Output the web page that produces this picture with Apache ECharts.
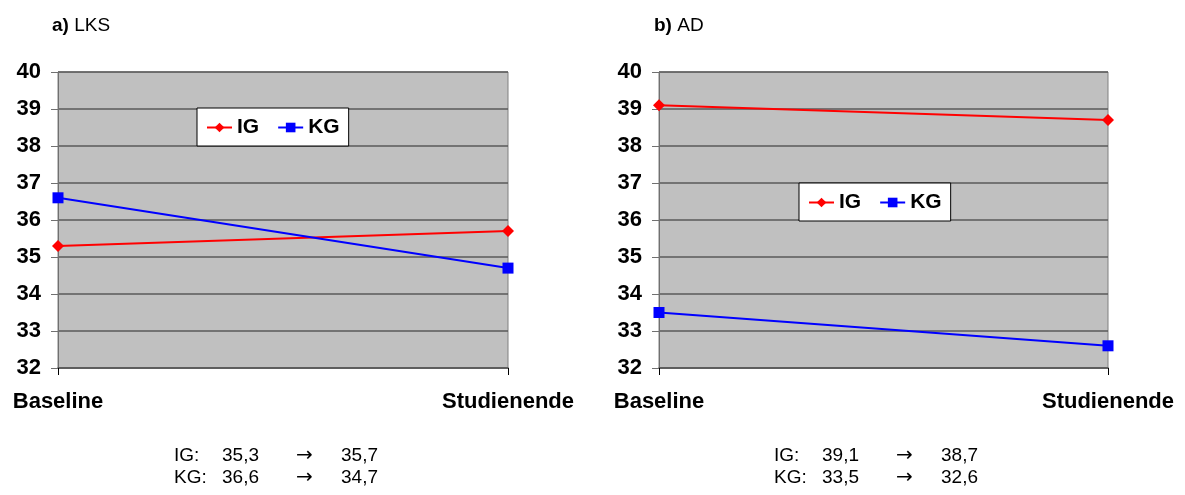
<!DOCTYPE html>
<html><head><meta charset="utf-8">
<script src="https://cdn.jsdelivr.net/npm/echarts@6/dist/echarts.min.js"></script>
<style>html,body{margin:0;padding:0;background:#fff}#c{width:1185px;height:495px}</style>
</head><body><div id="c"></div>
<script>
const categories = ['Baseline', 'Studienende'];
const lksIG = [35.3, 35.7];
const lksKG = [36.6, 34.7];
const adIG = [39.1, 38.7];
const adKG = [33.5, 32.6];
const yTicks = [32, 33, 34, 35, 36, 37, 38, 39, 40];

const FONT = 'Arial, "Liberation Sans", sans-serif';
const fmt = v => v.toFixed(1).replace('.', ',');

function yAx(gi) {
  return {
    gridIndex: gi, type: 'value', min: yTicks[0], max: yTicks[yTicks.length - 1], interval: 1,
    axisLine: { show: true, lineStyle: { color: '#707070', width: 1 } },
    axisTick: { show: true, length: 7, lineStyle: { color: '#707070' } },
    axisLabel: { color: '#000', fontFamily: FONT, fontWeight: 'bold', fontSize: 22, margin: 17 },
    splitLine: { show: true, lineStyle: { color: '#5a5a5a', width: 1.5 } }
  };
}
function xAx(gi) {
  return {
    gridIndex: gi, type: 'category', data: categories, boundaryGap: false,
    axisLine: { show: true, lineStyle: { color: '#5a5a5a', width: 1.5 } },
    axisTick: { show: true, length: 7, lineStyle: { color: '#000' } },
    axisLabel: { color: '#000', fontFamily: FONT, fontWeight: 'bold', fontSize: 22, margin: 23 },
    splitLine: { show: false }
  };
}
function ser(name, data, gi, color, symbol) {
  return {
    name, type: 'line', data, xAxisIndex: gi, yAxisIndex: gi,
    symbol, symbolSize: symbol === 'diamond' ? 12 : 11,
    lineStyle: { color, width: 2 }, itemStyle: { color },
    animation: false
  };
}
function legend(left, top) {
  return {
    left, top, orient: 'horizontal', data: ['IG', 'KG'],
    backgroundColor: '#fff', borderColor: '#000', borderWidth: 1,
    padding: [9, 9, 8, 9], itemGap: 18, itemWidth: 25, itemHeight: 12,
    textStyle: { color: '#000', fontFamily: FONT, fontWeight: 'bold', fontSize: 21 },
    selectedMode: false
  };
}
function titleText(x, letter, label) {
  return {
    type: 'text', left: x, top: 16,
    style: {
      text: '{b|' + letter + ')} ' + label,
      rich: { b: { fontWeight: 'bold', fontSize: 19, fontFamily: FONT, fill: '#000' } },
      font: '19px ' + FONT, fill: '#000'
    }
  };
}
function summary(x, ig, kg) {
  const items = [];
  const rows = [['IG:', ig], ['KG:', kg]];
  rows.forEach((r, i) => {
    const y = 446 + i * 22;
    items.push({ type: 'text', left: x, top: y, style: { text: r[0], font: '19px ' + FONT, fill: '#000' } });
    items.push({ type: 'text', left: x + 48, top: y, style: { text: fmt(r[1][0]), font: '19px ' + FONT, fill: '#000' } });
    items.push({ type: 'text', left: x + 122, top: y, style: { text: '\u2192', font: '20px "DejaVu Sans", sans-serif', fill: '#000' } });
    items.push({ type: 'text', left: x + 167, top: y, style: { text: fmt(r[1][1]), font: '19px ' + FONT, fill: '#000' } });
  });
  return items;
}

const chart = echarts.init(document.getElementById('c'), null, { renderer: 'canvas' });
chart.setOption({
  animation: false,
  backgroundColor: '#fff',
  grid: [
    { left: 58, top: 72, width: 450, height: 296, show: true, backgroundColor: '#c0c0c0', borderColor: '#808080', borderWidth: 1 },
    { left: 659, top: 72, width: 449, height: 296, show: true, backgroundColor: '#c0c0c0', borderColor: '#808080', borderWidth: 1 }
  ],
  xAxis: [xAx(0), xAx(1)],
  yAxis: [yAx(0), yAx(1)],
  legend: [legend(197, 108), legend(799, 183)],
  series: [
    ser('IG', lksIG, 0, '#ff0000', 'diamond'),
    ser('KG', lksKG, 0, '#0000ff', 'rect'),
    ser('IG', adIG, 1, '#ff0000', 'diamond'),
    ser('KG', adKG, 1, '#0000ff', 'rect')
  ],
  graphic: [titleText(52, 'a', 'LKS'), titleText(654, 'b', 'AD')]
    .concat(summary(174, lksIG, lksKG))
    .concat(summary(774, adIG, adKG))
});
</script></body></html>
